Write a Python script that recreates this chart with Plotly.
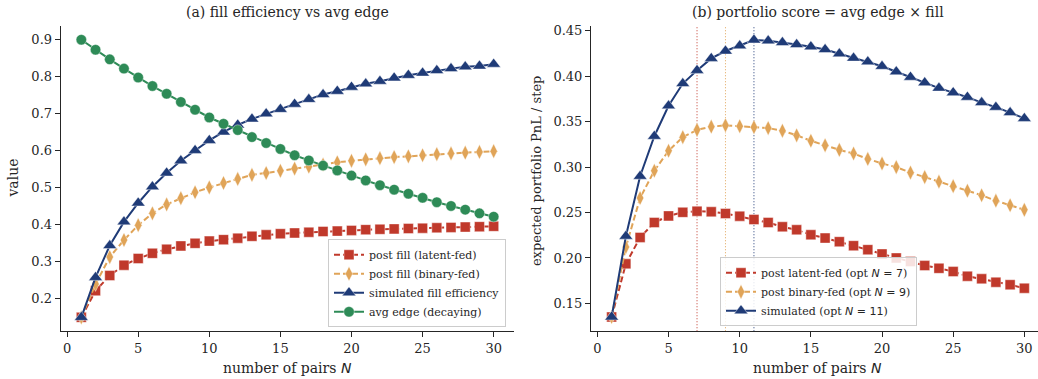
import plotly.graph_objects as go

# ---------------- data ----------------
N = list(range(1, 31))

fill_latent = [0.150, 0.222, 0.263, 0.291, 0.309, 0.323, 0.334, 0.343, 0.350, 0.356,
               0.360, 0.364, 0.369, 0.373, 0.376, 0.378, 0.380, 0.382, 0.383, 0.385,
               0.387, 0.388, 0.389, 0.390, 0.391, 0.392, 0.393, 0.394, 0.395, 0.396]
fill_binary = [0.150, 0.240, 0.313, 0.359, 0.399, 0.431, 0.455, 0.472, 0.488, 0.501,
               0.513, 0.524, 0.535, 0.540, 0.546, 0.552, 0.557, 0.563, 0.569, 0.573,
               0.577, 0.580, 0.583, 0.585, 0.588, 0.591, 0.593, 0.595, 0.597, 0.599]
fill_sim = [0.150, 0.258, 0.344, 0.408, 0.459, 0.503, 0.540, 0.573, 0.601, 0.628,
            0.651, 0.670, 0.686, 0.700, 0.712, 0.726, 0.739, 0.752, 0.761, 0.772,
            0.781, 0.788, 0.797, 0.804, 0.810, 0.817, 0.822, 0.827, 0.829, 0.834]
avg_edge = [0.900, 0.873, 0.847, 0.822, 0.798, 0.775, 0.754, 0.732, 0.711, 0.690,
            0.673, 0.656, 0.637, 0.621, 0.605, 0.588, 0.574, 0.560, 0.547, 0.533,
            0.520, 0.507, 0.495, 0.484, 0.473, 0.461, 0.451, 0.441, 0.431, 0.422]

score_latent = [0.135, 0.1935, 0.2226, 0.239, 0.2463, 0.2502, 0.2515, 0.2508, 0.2489, 0.246,
                0.2423, 0.239, 0.2343, 0.231, 0.2255, 0.2219, 0.2179, 0.2135, 0.2091, 0.2044,
                0.200, 0.196, 0.1916, 0.1886, 0.185, 0.1799, 0.177, 0.1733, 0.1705, 0.1667]
score_binary = [0.135, 0.212, 0.266, 0.296, 0.318, 0.333, 0.341, 0.3445, 0.346, 0.345,
                0.344, 0.343, 0.340, 0.335, 0.329, 0.324, 0.319, 0.315, 0.309, 0.304,
                0.300, 0.294, 0.289, 0.284, 0.279, 0.274, 0.269, 0.263, 0.258, 0.253]
score_sim = [0.135, 0.224, 0.290, 0.334, 0.3675, 0.392, 0.4065, 0.4197, 0.4278, 0.4336,
             0.4400, 0.4390, 0.4372, 0.435, 0.4325, 0.4295, 0.4248, 0.420, 0.416, 0.411,
             0.405, 0.399, 0.393, 0.387, 0.382, 0.377, 0.371, 0.366, 0.360, 0.3536]

opt_latent, opt_binary, opt_sim = 7, 9, 11

x_ticks = [0, 5, 10, 15, 20, 25, 30]
y1_ticks = [0.2, 0.3, 0.4, 0.5, 0.6, 0.7, 0.8, 0.9]
y2_ticks = [0.15, 0.20, 0.25, 0.30, 0.35, 0.40, 0.45]

# ---------------- style ----------------
RED = "#c0392b"
ORANGE = "#e0a458"
NAVY = "#1f3b77"
GREEN = "#2e8b57"
SERIF = "DejaVu Serif"
MATH = "DejaVu Sans"
AX = "#262626"

W, H = 1038, 379


def nmath(s):
    return f"<span style=\"font-family:'{MATH}'\">{s}</span>"


def trace(x, y, name, color, symbol, size, dash, xa, ya, legend):
    return go.Scatter(
        x=x, y=y, name=name, mode="lines+markers",
        line=dict(color=color, width=2, dash=dash),
        marker=dict(color=color, symbol=symbol, size=size,
                    line=dict(color="rgba(255,255,255,0.7)", width=0.6)),
        xaxis=xa, yaxis=ya, legend=legend,
    )


fig = go.Figure()
DASH = "6px,3px"
fig.add_trace(trace(N, fill_latent, "post fill (latent-fed)", RED, "square", 10, DASH, "x", "y", "legend"))
fig.add_trace(trace(N, fill_binary, "post fill (binary-fed)", ORANGE, "diamond-tall", 10.5, DASH, "x", "y", "legend"))
fig.add_trace(trace(N, fill_sim, "simulated fill efficiency", NAVY, "triangle-up", 12, "solid", "x", "y", "legend"))
fig.add_trace(trace(N, avg_edge, "avg edge (decaying)", GREEN, "circle", 10.5, "solid", "x", "y", "legend"))

fig.add_trace(trace(N, score_latent, f"post latent-fed (opt {nmath('<i>N</i> = ' + str(opt_latent))})",
                    RED, "square", 10, DASH, "x2", "y2", "legend2"))
fig.add_trace(trace(N, score_binary, f"post binary-fed (opt {nmath('<i>N</i> = ' + str(opt_binary))})",
                    ORANGE, "diamond-tall", 10.5, DASH, "x2", "y2", "legend2"))
fig.add_trace(trace(N, score_sim, f"simulated (opt {nmath('<i>N</i> = ' + str(opt_sim))})",
                    NAVY, "triangle-up", 12, "solid", "x2", "y2", "legend2"))

for xv, c in [(opt_latent, RED), (opt_binary, ORANGE), (opt_sim, NAVY)]:
    fig.add_shape(type="line", xref="x2", yref="y2 domain", x0=xv, x1=xv, y0=0, y1=1,
                  line=dict(color=c, width=1, dash="1px,2px"), layer="below")

axis_common = dict(showline=True, linecolor=AX, linewidth=1.1, ticks="outside", ticklen=5,
                   tickwidth=1.1, tickcolor=AX, showgrid=False, zeroline=False,
                   tickfont=dict(family=SERIF, size=13, color=AX))

y_dom = [1 - 331 / H, 1 - 24 / H]
fig.update_layout(
    width=W, height=H, margin=dict(l=0, r=0, t=0, b=0),
    paper_bgcolor="white", plot_bgcolor="white",
    font=dict(family=SERIF, color=AX),
    xaxis=dict(domain=[60.7 / W, 514.3 / W], range=[-0.45, 31.45], tickvals=x_ticks,
               anchor="y", **axis_common),
    yaxis=dict(domain=y_dom, range=[0.1125, 0.9375], tickvals=y1_ticks, tickformat=".1f",
               anchor="x", **axis_common),
    xaxis2=dict(domain=[591 / W, 1.0], range=[-0.45, 30.96], tickvals=x_ticks,
                anchor="y2", **axis_common),
    yaxis2=dict(domain=y_dom, range=[0.1193, 0.4555], tickvals=y2_ticks, tickformat=".2f",
                anchor="x2", **axis_common),
    legend=dict(x=506 / W, y=1 - 327 / H, xanchor="right", yanchor="bottom",
                bgcolor="rgba(255,255,255,0.85)", bordercolor="#cccccc", borderwidth=1,
                font=dict(family=SERIF, size=11, color=AX), tracegroupgap=0, itemwidth=30),
    legend2=dict(x=818.5 / W, y=1 - 326 / H, xanchor="center", yanchor="bottom",
                 bgcolor="rgba(255,255,255,0.85)", bordercolor="#cccccc", borderwidth=1,
                 font=dict(family=SERIF, size=11, color=AX), tracegroupgap=0, itemwidth=30),
    showlegend=True,
)

xlab = "number of pairs " + nmath("<i>N</i>")
annots = [
    dict(text="(a) fill efficiency vs avg edge", x=287.5 / W, y=1 - 10 / H, size=14),
    dict(text="(b) portfolio score = avg edge × fill", x=818.3 / W, y=1 - 10 / H, size=14),
    dict(text=xlab, x=287.5 / W, y=1 - 368 / H, size=14),
    dict(text=xlab, x=817 / W, y=1 - 368 / H, size=14),
    dict(text="value", x=13 / W, y=1 - 177.5 / H, textangle=-90, size=14),
    dict(text="expected portfolio PnL / step", x=536 / W, y=1 - 170 / H, textangle=-90, size=13),
]
for a in annots:
    sz = a.pop("size")
    fig.add_annotation(xref="paper", yref="paper", xanchor="center", yanchor="middle",
                       showarrow=False, font=dict(family=SERIF, size=sz, color=AX), **a)

fig.write_html("out.html", config={"displayModeBar": False},
               post_script="document.body.style.margin='0px';document.body.style.overflow='hidden';")
